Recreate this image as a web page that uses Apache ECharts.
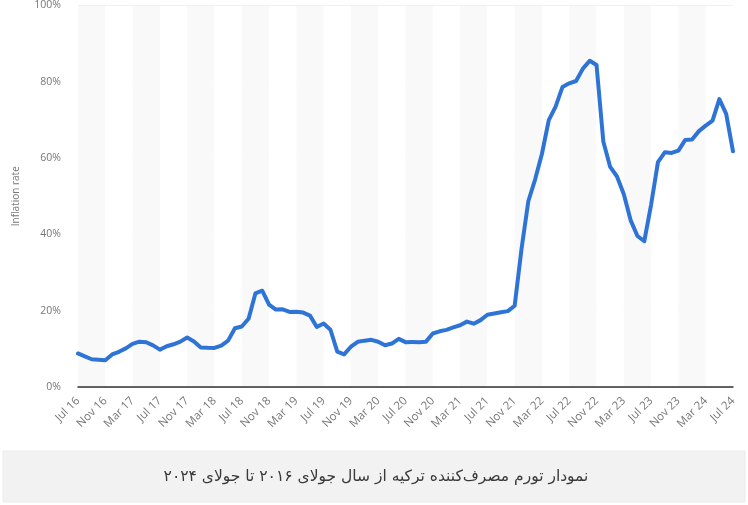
<!DOCTYPE html>
<html>
<head>
<meta charset="utf-8">
<script src="https://cdn.jsdelivr.net/npm/echarts@6/dist/echarts.min.js"></script>
<style>
html,body{margin:0;padding:0;background:#fff;}
#chart{width:748px;height:505px;}
</style>
</head>
<body>
<div id="chart"></div>
<script>
const months = ['Jan','Feb','Mar','Apr','May','Jun','Jul','Aug','Sep','Oct','Nov','Dec'];
const categories = [];
for (let y = 2016; y <= 2024; y++) {
  for (let m = 0; m < 12; m++) {
    if (y === 2016 && m < 6) continue;
    if (y === 2024 && m > 6) continue;
    categories.push(months[m] + ' ' + String(y).slice(2));
  }
}
const inflation = [
  8.79, 8.05, 7.28, 7.16, 7.00, 8.53,
  9.22, 10.13, 11.29, 11.87, 11.72, 10.90, 9.79, 10.68, 11.20, 11.90, 12.98, 11.92,
  10.35, 10.26, 10.23, 10.85, 12.15, 15.39, 15.85, 17.90, 24.52, 25.24, 21.62, 20.30,
  20.35, 19.67, 19.71, 19.50, 18.71, 15.72, 16.65, 15.01, 9.26, 8.55, 10.56, 11.84,
  12.15, 12.37, 11.86, 10.94, 11.39, 12.62, 11.76, 11.77, 11.75, 11.89, 14.03, 14.60,
  14.97, 15.61, 16.19, 17.14, 16.59, 17.53, 18.95, 19.25, 19.58, 19.89, 21.31, 36.08,
  48.69, 54.44, 61.14, 69.97, 73.50, 78.62, 79.60, 80.21, 83.45, 85.51, 84.39, 64.27,
  57.68, 55.18, 50.51, 43.68, 39.59, 38.21, 47.83, 58.94, 61.53, 61.36, 61.98, 64.77,
  64.86, 67.07, 68.50, 69.80, 75.45, 71.60, 61.78
];
const yTicks = [0, 20, 40, 60, 80, 100];
const captionText = 'نمودار تورم مصرف‌کننده ترکیه از سال جولای ۲۰۱۶ تا جولای ۲۰۲۴';

const chart = echarts.init(document.getElementById('chart'));
chart.setOption({
  animation: false,
  grid: { left: 78, right: 15, top: 2, bottom: 118 },
  xAxis: {
    type: 'category',
    data: categories,
    boundaryGap: false,
    axisLine: { show: true, lineStyle: { color: '#333', width: 1.5 } },
    axisTick: { show: false },
    axisLabel: {
      interval: 3, rotate: 45, margin: 12,
      color: '#777', fontSize: 11.5, fontFamily: 'Open Sans'
    },
    splitLine: { show: false },
    splitArea: { show: true, interval: 3, areaStyle: { color: ['#f9f9fa', '#ffffff'] } }
  },
  yAxis: {
    type: 'value',
    min: yTicks[0], max: yTicks[yTicks.length - 1], interval: 20,
    name: 'Inflation rate',
    nameLocation: 'middle', nameGap: 57, nameRotate: 90,
    nameTextStyle: { color: '#777', fontSize: 10, fontFamily: 'Open Sans' },
    axisLine: { show: false },
    axisTick: { show: false },
    axisLabel: { formatter: '{value}%', color: '#777', fontSize: 10.5, margin: 17, fontFamily: 'Open Sans' },
    splitLine: { show: true, lineStyle: { color: '#e4e4e4', width: 1 } }
  },
  series: [{
    type: 'line',
    data: inflation,
    showSymbol: false,
    smooth: false,
    lineStyle: { color: '#2e74d6', width: 4, join: 'round', cap: 'round' },
    itemStyle: { color: '#2e74d6' },
    z: 5
  }],
  graphic: [
    { type: 'rect', shape: { x: 3, y: 451, width: 742, height: 51 }, style: { fill: '#f2f2f2', stroke: '#ebebeb' }, z: 0 },
    { type: 'text', x: 376, y: 477, style: { text: captionText, fill: '#3a3a3a', font: '15.5px "DejaVu Sans"', align: 'center', verticalAlign: 'middle' }, z: 1 }
  ]
});
</script>
</body>
</html>
